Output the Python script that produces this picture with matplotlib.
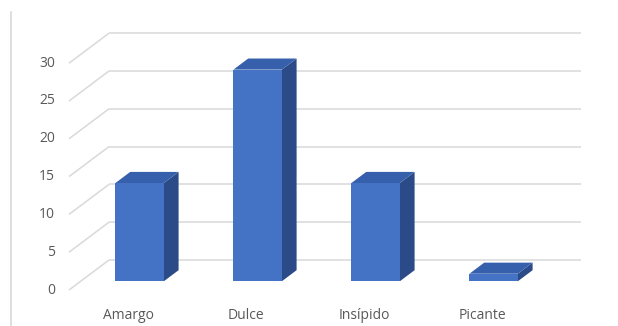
import matplotlib.pyplot as plt
from matplotlib.patches import Polygon
from matplotlib.lines import Line2D

categorias = ['Amargo', 'Dulce', 'Insípido', 'Picante']
valores = [13, 28, 13, 1]
ticks_y = [0, 5, 10, 15, 20, 25, 30]

# oblique 3d look: depth shift of the back wall, in data units
DX, DY = 0.339, 3.97
# bar placement inside the depth
D_FRONT, D_BAR = 0.29, 0.37
ANCHO = 0.41

C_FRONT = '#4472C4'
C_TOP = '#3660AB'
C_SIDE = '#2B4B88'
C_GRID = '#D9D9D9'
C_TEXT = '#595959'

fig = plt.figure(figsize=(6.18, 3.26), dpi=100)
ax = fig.add_axes([0, 0, 1, 1])
ax.set_xlim(-128 / 118, (618 - 128) / 118)
ax.set_ylim(-36 / 7.56, (326 - 36) / 7.56)
ax.axis('off')

x0, x1 = -0.5, 3.5
for t in ticks_y:
    # side wall diagonal and back wall gridline
    ax.plot([x0, x0 + DX], [t, t + DY], color=C_GRID, lw=1.1,
            solid_capstyle='butt', zorder=1)
    ax.plot([x0 + DX, x1 + DX], [t + DY, t + DY], color=C_GRID, lw=1.1,
            solid_capstyle='butt', zorder=1)
    ax.text(-0.62, t, str(t), ha='right', va='center', fontsize=10,
            color=C_TEXT, family='Open Sans')

for i, (cat, v) in enumerate(zip(categorias, valores)):
    cx = i + D_FRONT * DX
    yb = D_FRONT * DY
    l, r = cx - ANCHO / 2, cx + ANCHO / 2
    t = v + yb
    dx, dy = D_BAR * DX, D_BAR * DY
    ax.add_patch(Polygon([(r, yb), (r + dx, yb + dy), (r + dx, t + dy), (r, t)],
                         closed=True, fc=C_SIDE, ec='none', zorder=3))
    ax.add_patch(Polygon([(l, t), (r, t), (r + dx, t + dy), (l + dx, t + dy)],
                         closed=True, fc=C_TOP, ec='none', zorder=3))
    ax.add_patch(Polygon([(l, yb), (r, yb), (r, t), (l, t)],
                         closed=True, fc=C_FRONT, ec='none', zorder=4))
    ax.text(i, -3.4, cat, ha='center', va='center', fontsize=10,
            color=C_TEXT, family='Open Sans')

# border line on the left edge
fig.add_artist(Line2D([11 / 618, 11 / 618], [0, 1 - 12 / 326],
                      transform=fig.transFigure, color='#D9D9D9', lw=1.2))

fig.savefig('out.png', dpi=100)
